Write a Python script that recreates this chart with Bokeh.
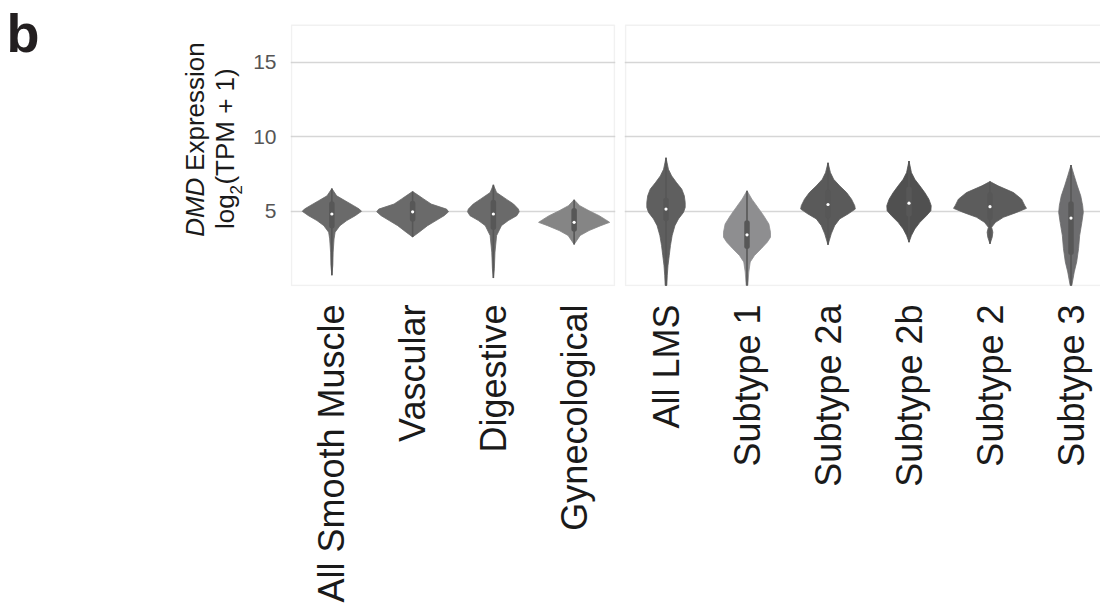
import math
from bokeh.plotting import figure
from bokeh.layouts import row
from bokeh.models import Range1d, FixedTicker, BoxAnnotation
from bokeh.core.properties import value
from bokeh.embed import file_html
from bokeh.resources import INLINE

# ---------------- data ----------------
left_categories = ["All Smooth Muscle", "Vascular", "Digestive", "Gynecological"]
right_categories = ["All LMS", "Subtype 1", "Subtype 2a", "Subtype 2b", "Subtype 2", "Subtype 3"]

y_ticks = [5, 10, 15]

# violin outlines: (log2 TPM value, half-width in category units)
asm_shape = [(6.51, 0), (6.02, 0.06), (5.69, 0.165), (5.36, 0.27), (5.13, 0.34), (4.98, 0.367),
             (4.69, 0.29), (4.36, 0.185), (4.02, 0.10), (3.58, 0.04), (3.13, 0.027), (2.24, 0.016),
             (1.36, 0.012), (0.69, 0)]
vascular_shape = [(6.31, 0), (6.24, 0.02), (6.02, 0.08), (5.8, 0.14), (5.47, 0.23), (5.13, 0.42),
                  (4.95, 0.445), (4.69, 0.39), (4.36, 0.29), (4.02, 0.185), (3.58, 0.08), (3.26, 0)]
digestive_shape = [(6.76, 0), (6.24, 0.04), (5.8, 0.16), (5.47, 0.25), (5.13, 0.31), (4.95, 0.32),
                   (4.69, 0.29), (4.36, 0.185), (4.02, 0.10), (3.35, 0.04), (2.24, 0.02), (1.13, 0.012),
                   (0.5, 0)]
gyneco_shape = [(5.76, 0), (5.36, 0.07), (5.02, 0.185), (4.69, 0.31), (4.42, 0.39), (4.24, 0.44),
                (4.02, 0.33), (3.69, 0.185), (3.36, 0.075), (2.76, 0)]
all_lms_shape = [(8.58, 0), (7.8, 0.03), (7.36, 0.07), (6.91, 0.13), (6.47, 0.195), (6.02, 0.226),
                 (5.58, 0.237), (5.24, 0.237), (4.91, 0.216), (4.47, 0.154), (4.02, 0.11), (3.36, 0.076),
                 (2.69, 0.055), (2.02, 0.04), (1.36, 0.025), (0.69, 0.016), (0.0, 0.01)]
subtype1_shape = [(6.36, 0), (5.8, 0.06), (5.24, 0.134), (4.69, 0.206), (4.13, 0.27), (3.58, 0.29),
                  (3.24, 0.29), (2.91, 0.25), (2.47, 0.175), (2.02, 0.093), (1.58, 0.04), (0.91, 0.022),
                  (0.0, 0.01)]
subtype2a_shape = [(8.24, 0), (7.58, 0.03), (7.13, 0.07), (6.69, 0.144), (6.24, 0.23), (5.8, 0.29),
                   (5.36, 0.33), (5.13, 0.337), (4.8, 0.247), (4.47, 0.144), (4.02, 0.082), (3.47, 0.04),
                   (2.73, 0)]
subtype2b_shape = [(8.36, 0), (7.58, 0.03), (7.13, 0.072), (6.69, 0.134), (6.24, 0.195), (5.8, 0.245),
                   (5.36, 0.274), (5.02, 0.27), (4.69, 0.216), (4.24, 0.134), (3.8, 0.072), (3.36, 0.03),
                   (2.91, 0)]
subtype2_shape = [(6.98, 0), (6.69, 0.10), (6.24, 0.29), (5.8, 0.39), (5.36, 0.43), (5.18, 0.45),
                  (4.91, 0.33), (4.58, 0.165), (4.24, 0.068), (3.91, 0.02), (3.58, 0.035), (3.24, 0.027),
                  (2.8, 0)]
subtype3_shape = [(8.09, 0), (7.36, 0.04), (6.69, 0.078), (6.02, 0.12), (5.36, 0.144), (4.91, 0.152),
                  (4.24, 0.134), (3.36, 0.107), (2.47, 0.093), (1.58, 0.07), (0.91, 0.04), (0.0, 0.01)]

left_shapes = [asm_shape, vascular_shape, digestive_shape, gyneco_shape]
right_shapes = [all_lms_shape, subtype1_shape, subtype2a_shape, subtype2b_shape, subtype2_shape, subtype3_shape]

left_medians = [4.8, 4.95, 4.8, 4.24]
left_q1 = [4.02, 4.47, 3.91, 3.8]
left_q3 = [5.47, 5.51, 5.58, 5.02]
left_wlo = [0.69, 3.26, 0.5, 2.76]
left_whi = [6.51, 6.31, 6.76, 5.76]

right_medians = [5.13, 3.4, 5.44, 5.53, 5.29, 4.53]
right_q1 = [4.5, 2.64, 4.69, 4.8, 4.58, 2.24]
right_q3 = [5.7, 4.2, 6.27, 6.47, 6.07, 5.47]
right_wlo = [0.0, 0.0, 2.73, 2.91, 2.8, 0.0]
right_whi = [8.58, 6.36, 8.24, 8.36, 6.98, 8.09]

left_colors = ["#6a6a6a", "#6a6a6a", "#6a6a6a", "#858585"]
right_colors = ["#5f5f5f", "#8e8e90", "#5a5a5a", "#505050", "#5c5c5c", "#6d6d6f"]

y_title_line1 = ["DMD", "Expression"]
y_title_line2 = ["log", "2", "(TPM + 1)"]
panel_letter = "b"

# ---------------- style / geometry ----------------
FONT = "Liberation Sans"
GRID = "#d6d6d6"
EDGE = "#d0d0d0"
BOX = "#575757"
AXIS_TOP = 17.47          # value at the drawn top border
PX_PER_UNIT = 15.0        # vertical pixels per log2 unit
PX_PER_CAT = 81.0
H = 605
FRAME_TOP = 8             # page px of every frame's top
FRAME_BOTTOM = 288        # page px of every frame's bottom
BORDER_BOTTOM = H - FRAME_BOTTOM
Y_LO = -1 / PX_PER_UNIT
Y_HI = (287 - FRAME_TOP) / PX_PER_UNIT
PAD = 1 / PX_PER_CAT
W0 = 250
MID = 0.3465              # em-box middle above the baseline


def draw_violins(p, shapes, colors, med, q1, q3, wlo, whi):
    for i, (shape, col) in enumerate(zip(shapes, colors)):
        vals = [v for v, w in shape]
        wids = [w for v, w in shape]
        xs = [i + w for w in wids] + [i - w for w in reversed(wids)]
        ys = vals + list(reversed(vals))
        p.patch(xs, ys, fill_color=col, line_color=col, line_width=0.8)
    idx = list(range(len(shapes)))
    p.segment(x0=idx, y0=wlo, x1=idx, y1=whi, line_color=BOX, line_width=1.6)
    p.segment(x0=idx, y0=q1, x1=idx, y1=q3, line_color=BOX, line_width=5.5, line_cap="round")
    p.scatter(x=idx, y=med, size=3.2, fill_color="white", line_color=None)


def style(p, cats):
    p.xaxis.ticker = FixedTicker(ticks=list(range(len(cats))))
    p.xaxis.major_label_overrides = {i: c for i, c in enumerate(cats)}
    p.xaxis.major_label_orientation = math.pi / 2
    p.xaxis.major_label_text_font = FONT
    p.xaxis.major_label_text_font_size = "36px"
    p.xaxis.major_label_text_color = "#1a1a1a"
    p.xaxis.major_label_standoff = 12
    p.xaxis.axis_line_color = None
    p.xaxis.major_tick_line_color = None
    p.xaxis.minor_tick_line_color = None
    p.xgrid.grid_line_color = None
    p.ygrid.ticker = FixedTicker(ticks=y_ticks)
    p.ygrid.grid_line_color = GRID
    p.ygrid.grid_line_width = 1.5
    p.outline_line_color = None
    p.background_fill_color = "white"
    p.border_fill_color = "white"


# ---------------- title strip (frame aligned with the panels; data = page px) ----------------
p0 = figure(width=W0, height=H, x_range=Range1d(0, W0), y_range=Range1d(0, FRAME_BOTTOM - FRAME_TOP),
            output_backend="svg", toolbar_location=None,
            min_border_left=0, min_border_right=0, min_border_top=FRAME_TOP,
            min_border_bottom=BORDER_BOTTOM)
p0.xaxis.visible = False
p0.yaxis.visible = False
p0.xgrid.visible = False
p0.ygrid.visible = False
p0.outline_line_color = None
p0.background_fill_color = "white"
p0.border_fill_color = "white"


def top(py):
    return FRAME_BOTTOM - py


TF = 26
SF = 17
l1_start = 238
l1_base = 204
l2_start = 230
l2_base = 234
sub_base = 241
expr_start = l1_start - (2.277 + 0.278) * TF
sub_start = l2_start - 1.334 * TF
paren_start = sub_start - 0.556 * SF - 0.5
common = dict(angle=math.pi / 2, text_align="left", text_baseline="middle",
              text_font=value(FONT), text_color="#1a1a1a")
p0.text(x=[l1_base - MID * TF], y=[top(l1_start)], text=[y_title_line1[0]], text_font_size=f"{TF}px",
        text_font_style="italic", **common)
p0.text(x=[l1_base - MID * TF], y=[top(expr_start)], text=[y_title_line1[1]],
        text_font_size=f"{TF}px", **common)
p0.text(x=[l2_base - MID * TF], y=[top(l2_start)], text=[y_title_line2[0]],
        text_font_size=f"{TF}px", **common)
p0.text(x=[sub_base - MID * SF], y=[top(sub_start)], text=[y_title_line2[1]],
        text_font_size=f"{SF}px", **common)
p0.text(x=[l2_base - MID * TF], y=[top(paren_start)], text=[y_title_line2[2]],
        text_font_size=f"{TF}px", **common)
p0.text(x=[6], y=[top(51.5 - MID * 54)], text=[panel_letter], text_align="left", text_baseline="middle",
        text_font=value(FONT), text_font_size="54px", text_font_style="bold", text_color="#231f20")

# ---------------- left panel ----------------
left_frame_w = 326
p1 = figure(width=39 + left_frame_w + 4, height=H,
            x_range=Range1d(-0.5 - PAD, 3.5 + PAD), y_range=Range1d(Y_LO, Y_HI),
            output_backend="svg", toolbar_location=None,
            min_border_left=39, min_border_right=4, min_border_top=FRAME_TOP,
            min_border_bottom=BORDER_BOTTOM)
style(p1, left_categories)
p1.yaxis.ticker = FixedTicker(ticks=y_ticks)
p1.yaxis.major_label_text_font = FONT
p1.yaxis.major_label_text_font_size = "21px"
p1.yaxis.major_label_text_color = "#555555"
p1.yaxis.major_label_standoff = 8
p1.yaxis.axis_line_color = None
p1.yaxis.major_tick_line_color = None
p1.yaxis.minor_tick_line_color = None
draw_violins(p1, left_shapes, left_colors, left_medians, left_q1, left_q3, left_wlo, left_whi)
p1.add_layout(BoxAnnotation(left=-0.5, right=3.5, bottom=0, top=AXIS_TOP, fill_color=None,
                            fill_alpha=0, line_color=EDGE, line_width=1.5, level="underlay"))

# ---------------- right panel ----------------
right_frame_w = 476
p2 = figure(width=5 + right_frame_w, height=H,
            x_range=Range1d(-0.5 - PAD, -0.5 - PAD + right_frame_w / PX_PER_CAT),
            y_range=Range1d(Y_LO, Y_HI),
            output_backend="svg", toolbar_location=None,
            min_border_left=5, min_border_right=0, min_border_top=FRAME_TOP,
            min_border_bottom=BORDER_BOTTOM)
style(p2, right_categories)
p2.yaxis.visible = False
draw_violins(p2, right_shapes, right_colors, right_medians, right_q1, right_q3, right_wlo, right_whi)
p2.add_layout(BoxAnnotation(left=-0.5, right=12, bottom=0, top=AXIS_TOP, fill_color=None,
                            fill_alpha=0, line_color=EDGE, line_width=1.5, level="underlay"))

layout = row(p0, p1, p2)
open("out.html", "w").write(file_html(layout, INLINE))
